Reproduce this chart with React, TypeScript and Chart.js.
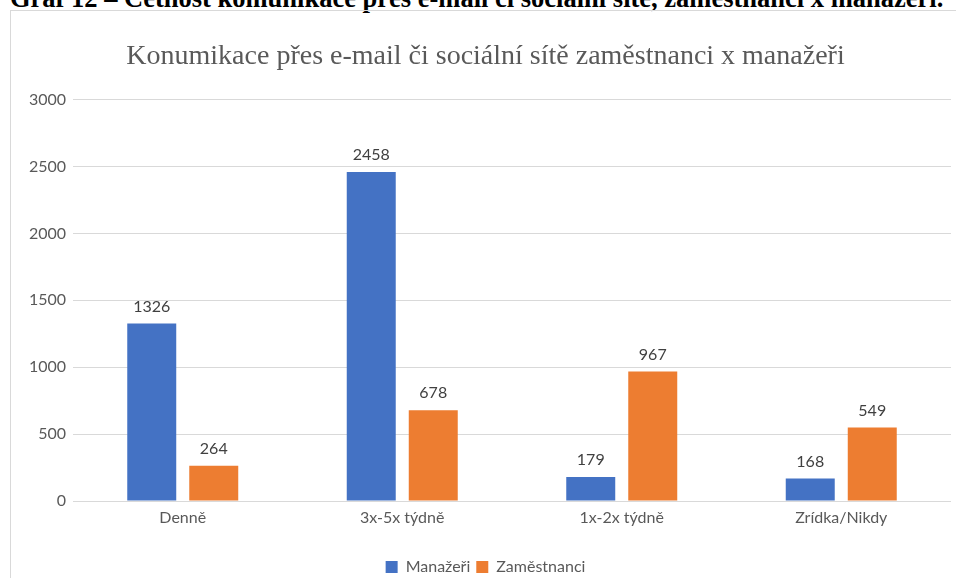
import React, { useEffect, useRef } from "react";
import { Chart, registerables } from "chart.js";

Chart.register(...registerables);

const categories = ["Denně", "3x-5x týdně", "1x-2x týdně", "Zrídka/Nikdy"];
const manazeri = [1326, 2458, 179, 168];
const zamestnanci = [264, 678, 967, 549];
const seriesNames = ["Manažeři", "Zaměstnanci"];
const yTicks = [0, 500, 1000, 1500, 2000, 2500, 3000];
const chartTitle = "Konumikace přes e-mail či sociální sítě zaměstnanci x manažeři";
const heading = "Graf 12 – Četnost komunikace přes e-mail či sociální sítě, zaměstnanci x manažeři.";

const FONT = "Lato, 'Open Sans', sans-serif";

const valueLabels = {
  id: "valueLabels",
  afterDatasetsDraw(chart: any) {
    const ctx = chart.ctx;
    ctx.save();
    ctx.font = `16px ${FONT}`;
    ctx.fillStyle = "#404040";
    ctx.textAlign = "center";
    ctx.textBaseline = "bottom";
    chart.data.datasets.forEach((ds: any, i: number) => {
      const meta = chart.getDatasetMeta(i);
      meta.data.forEach((bar: any, j: number) => {
        ctx.fillText(String(ds.data[j]), bar.x, bar.y - 9);
      });
    });
    ctx.restore();
  },
};

export default function App() {
  const ref = useRef<HTMLCanvasElement | null>(null);

  useEffect(() => {
    document.body.style.margin = "0";
    const chart = new Chart(ref.current as HTMLCanvasElement, {
      type: "bar",
      data: {
        labels: categories,
        datasets: [
          {
            label: seriesNames[0],
            data: manazeri,
            backgroundColor: "#4472C4",
            barPercentage: 0.79,
            categoryPercentage: 0.565,
          },
          {
            label: seriesNames[1],
            data: zamestnanci,
            backgroundColor: "#ED7D31",
            barPercentage: 0.79,
            categoryPercentage: 0.565,
          },
        ],
      },
      options: {
        animation: false,
        responsive: true,
        maintainAspectRatio: false,
        layout: { padding: { left: 20, right: 5, top: 10, bottom: 0 } },
        plugins: {
          title: {
            display: true,
            text: chartTitle,
            color: "#595959",
            font: { family: "'Liberation Serif', serif", size: 28, weight: "normal" },
            padding: { top: 30, bottom: 26 },
          },
          legend: {
            position: "bottom",
            labels: {
              color: "#595959",
              font: { family: FONT, size: 16 },
              boxWidth: 12,
              boxHeight: 12,
              padding: 6,
            },
          },
          tooltip: { enabled: false },
        },
        scales: {
          x: {
            grid: { display: false, drawTicks: false },
            border: { display: false },
            ticks: { color: "#595959", font: { family: FONT, size: 16 }, padding: 7 },
            afterFit: (s: any) => {
              s.height = 52;
            },
          },
          y: {
            min: 0,
            max: 3000,
            afterBuildTicks: (s: any) => {
              s.ticks = yTicks.map((v) => ({ value: v }));
            },
            grid: { color: "#d9d9d9", lineWidth: 1, drawTicks: false },
            border: { display: false },
            ticks: {
              color: "#595959",
              font: { family: FONT, size: 16 },
              padding: 7,
              callback: (v: any) => String(v),
            },
            afterFit: (s: any) => {
              s.width = 53;
            },
          },
        },
      },
      plugins: [valueLabels],
    });
    return () => chart.destroy();
  }, []);

  return (
    <div style={{ position: "relative", width: 956, height: 578, overflow: "hidden", background: "#fff" }}>
      <div
        style={{
          position: "absolute",
          left: 10,
          top: -15,
          whiteSpace: "nowrap",
          fontFamily: "'Liberation Serif', serif",
          fontWeight: "bold",
          fontSize: 26.5,
          lineHeight: 1,
          color: "#000",
        }}
      >
        {heading}
      </div>
      <div
        style={{
          position: "absolute",
          left: 10,
          top: 10,
          width: 960,
          height: 600,
          border: "1px solid #d9d9d9",
          boxSizing: "border-box",
        }}
      />
      <div style={{ position: "absolute", left: 0, top: 0, width: 956, height: 585 }}>
        <canvas ref={ref} />
      </div>
    </div>
  );
}
